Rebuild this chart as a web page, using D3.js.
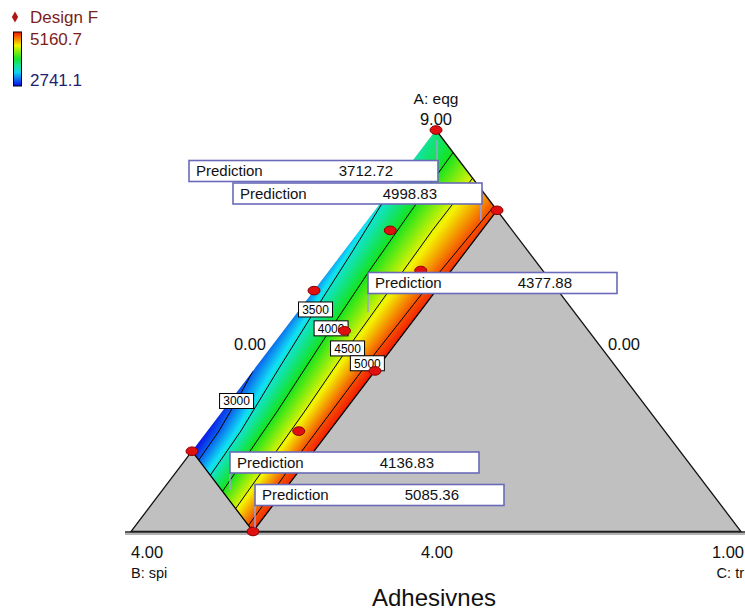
<!DOCTYPE html>
<html>
<head>
<meta charset="utf-8">
<script src="https://cdn.jsdelivr.net/npm/d3@7"></script>
<style>
  body { margin: 0; background: #fff; }
  svg text { font-family: Arial, "Liberation Sans", sans-serif; }
</style>
</head>
<body>
<svg id="chart" width="745" height="611"></svg>
<script>
// ---- mixture design: A = egg, B = spi, C = tr (fractions of the simplex) ----
// constrained region: B <= 0.8, C <= 0.2
const limitB = 0.8;
const limitC = 0.2;

const responseRange = [2741.1, 5160.7];
const colorStops = [2741.1, 3400, 3990, 4560, 5160.7];
const contourLevels = [3000, 3500, 4000, 4500, 5000];

// contour lines as [A, C] pairs (B = 1 - A - C)
const contour3000 = [[0.40, 0.0], [0.33, 0.010], [0.25, 0.019], [0.178, 0.022]];
const contour3500 = [[0.85, 0.0], [0.70, 0.014], [0.553, 0.026], [0.40, 0.040], [0.25, 0.055], [0.14, 0.060]];
const contour4000 = [[0.944, 0.056], [0.80, 0.060], [0.65, 0.066], [0.506, 0.075], [0.30, 0.090], [0.10, 0.100]];
const contour4500 = [[0.88, 0.12], [0.75, 0.119], [0.456, 0.127], [0.30, 0.135], [0.057, 0.143]];
const contour5000 = [[0.81, 0.19], [0.60, 0.181], [0.419, 0.178], [0.20, 0.180], [0.015, 0.185]];
const contourLines = [contour3000, contour3500, contour4000, contour4500, contour5000];
// where each contour carries its value label (A fraction)
const contourLabelA = [0.325, 0.553, 0.506, 0.456, 0.419];

// response along the edges of the constrained region, as [A, value]
const edgeC0 = [[0.2, 2741.1], [0.40, 3000], [0.55, 3110], [0.70, 3270], [0.85, 3500], [1.0, 3712.72]];
const edgeCmax = [[0.0, 5085.36], [0.4, 5160.7], [0.8, 5030]];
const edgeB0 = [[0.8, 5030], [0.81, 5000], [0.88, 4500], [0.944, 4000], [1.0, 3712.72]];
const edgeBmax = [[0.0, 5085.36], [0.015, 5000], [0.057, 4500], [0.10, 4000], [0.14, 3500], [0.178, 3000], [0.2, 2741.1]];

// design runs as [A, C]
const designRuns = [[1, 0], [0.8, 0.2], [0.75, 0.05], [0.65, 0.15], [0.6, 0], [0.5, 0.1],
                    [0.4, 0.2], [0.25, 0.15], [0.2, 0], [0, 0.2]];

// prediction flags: point [A, C] and predicted value
const flagPoints = [[1.0, 0.0], [0.775, 0.186], [0.546, 0.1156], [0.103, 0.111], [0.01, 0.197]];
const flagValues = [3712.72, 4998.83, 4377.88, 4136.83, 5085.36];

// ---------------------------------------------------------------------------
const svg = d3.select("#chart");

// ternary -> screen
const yOfA = d3.scaleLinear().domain([0, 1]).range([531.5, 130]);
const shiftOfA = d3.scaleLinear().domain([0, 1]).range([0, 305]);
const xOfC = d3.scaleLinear().domain([0, 1]).range([131, 741]);
const pt = (a, c) => [xOfC(c) + shiftOfA(a), yOfA(a)];

const color = d3.scaleLinear()
  .domain(colorStops)
  .range(["#0808e8", "#10e2f4", "#14e41e", "#f4f400", "#f41400"])
  .interpolate(d3.interpolateRgb)
  .clamp(true);

const P = {
  A: pt(1, 0), B: pt(0, 0), C: pt(0, 1),
  left: pt(1 - limitB, 0),          // B = 0.8, C = 0
  bottom: pt(0, limitC),            // B = 0.8, C = 0.2
  right: pt(1 - limitC, limitC)     // B = 0, C = 0.2
};
const regionPoly = [P.A, P.right, P.bottom, P.left];

// piecewise-linear lookup along an [A, value] table
const tableScale = t => d3.scaleLinear().domain(t.map(d => d[0])).range(t.map(d => d[1])).clamp(true);
const sC0 = tableScale(edgeC0), sCmax = tableScale(edgeCmax), sB0 = tableScale(edgeB0), sBmax = tableScale(edgeBmax);

function contourCAt(line, a) {
  for (let i = 0; i < line.length - 1; i++) {
    const [a0, c0] = line[i], [a1, c1] = line[i + 1];
    if ((a <= a0 && a >= a1) || (a >= a0 && a <= a1)) {
      const t = a1 === a0 ? 0 : (a - a0) / (a1 - a0);
      return c0 + t * (c1 - c0);
    }
  }
  return null;
}

function rowScale(a) {
  const cMin = Math.max(0, 1 - limitB - a);
  const cMax = Math.min(limitC, 1 - a);
  const knots = [[cMin, a >= 1 - limitB ? sC0(a) : sBmax(a)]];
  contourLines.forEach((line, i) => {
    const c = contourCAt(line, a);
    if (c !== null && c > cMin && c < cMax) knots.push([c, contourLevels[i]]);
  });
  knots.push([cMax, a <= 1 - limitC ? sCmax(a) : sB0(a)]);
  knots.sort((p, q) => p[0] - q[0]);
  return d3.scaleLinear().domain(knots.map(k => k[0])).range(knots.map(k => k[1])).clamp(true);
}

// ---- shaded response surface, rasterised then clipped to the region ----
const x0 = Math.floor(P.left[0]) - 2, x1 = Math.ceil(P.right[0]) + 2;
const y0 = Math.floor(P.A[1]) - 2, y1 = Math.ceil(P.bottom[1]) + 2;
const cw = x1 - x0, ch = y1 - y0;
const canvas = document.createElement("canvas");
canvas.width = cw; canvas.height = ch;
const ctx = canvas.getContext("2d");
const img = ctx.createImageData(cw, ch);
for (let j = 0; j < ch; j++) {
  const a = Math.max(0, Math.min(1, yOfA.invert(y0 + j + 0.5)));
  const rs = rowScale(a);
  for (let i = 0; i < cw; i++) {
    const c = xOfC.invert(x0 + i + 0.5 - shiftOfA(a));
    const col = d3.rgb(color(rs(c)));
    const k = (j * cw + i) * 4;
    img.data[k] = col.r; img.data[k + 1] = col.g; img.data[k + 2] = col.b; img.data[k + 3] = 255;
  }
}
ctx.putImageData(img, 0, 0);

const defs = svg.append("defs");
defs.append("clipPath").attr("id", "regionClip")
  .append("polygon").attr("points", regionPoly.map(p => p.join(",")).join(" "));

// legend gradient
const grad = defs.append("linearGradient").attr("id", "legendGrad")
  .attr("x1", 0).attr("y1", 1).attr("x2", 0).attr("y2", 0);
d3.range(0, 1.0001, 0.125).forEach(t => {
  grad.append("stop").attr("offset", t)
    .attr("stop-color", color(responseRange[0] + t * (responseRange[1] - responseRange[0])));
});

// ---- gray simplex ----
svg.append("polygon")
  .attr("points", [P.A, P.B, P.C].map(p => p.join(",")).join(" "))
  .attr("fill", "#c0c0c0");

svg.append("image")
  .attr("x", x0).attr("y", y0).attr("width", cw).attr("height", ch)
  .attr("href", canvas.toDataURL())
  .attr("clip-path", "url(#regionClip)");

// contour lines
const line = d3.line();
const cg = svg.append("g").attr("clip-path", "url(#regionClip)");
contourLines.forEach(l => {
  cg.append("path").attr("d", line(l.map(d => pt(d[0], d[1]))))
    .attr("fill", "none").attr("stroke", "#000").attr("stroke-width", 1);
});

// region borders against the gray area
svg.append("path").attr("d", line([P.left, P.bottom, P.right]))
  .attr("fill", "none").attr("stroke", "#000").attr("stroke-width", 1.3);

// simplex outline
svg.append("path").attr("d", line([P.left, P.B, P.C, P.A]))
  .attr("fill", "none").attr("stroke", "#111").attr("stroke-width", 1.3);
svg.append("line").attr("x1", P.B[0] - 6).attr("x2", P.C[0] + 4)
  .attr("y1", P.B[1] + 0.5).attr("y2", P.B[1] + 0.5)
  .attr("stroke", "#222").attr("stroke-width", 1.5);
svg.append("line").attr("x1", P.B[0] - 6).attr("x2", P.C[0] + 4)
  .attr("y1", P.B[1] + 2.5).attr("y2", P.B[1] + 2.5)
  .attr("stroke", "#999").attr("stroke-width", 1.5);

// contour value labels
contourLevels.forEach((lev, i) => {
  const a = contourLabelA[i];
  const c = contourCAt(contourLines[i], a);
  const [x, y] = pt(a, c);
  const g = svg.append("g").attr("transform", `translate(${x},${y})`);
  g.append("rect").attr("x", -17).attr("y", -7.5).attr("width", 34).attr("height", 15)
    .attr("fill", "#fff").attr("stroke", "#000").attr("stroke-width", 1);
  g.append("text").attr("text-anchor", "middle").attr("dy", "0.36em")
    .attr("font-size", 12).attr("fill", "#000").text(lev);
});

// design runs
designRuns.forEach(([a, c]) => {
  const [x, y] = pt(a, c);
  svg.append("ellipse").attr("cx", x).attr("cy", y).attr("rx", 6).attr("ry", 4.3)
    .attr("fill", "#e01010").attr("stroke", "#8a0000").attr("stroke-width", 1);
});

// prediction flags
const flagBoxes = [[189, 160.5], [233, 183], [368, 272.5], [230, 452], [255, 484.5]];
flagValues.forEach((v, i) => {
  const [a, c] = flagPoints[i];
  const [px, py] = pt(a, c);
  const [bx, by] = flagBoxes[i];
  const lx = i === 0 ? px + 1 : (i === 1 ? px : bx);
  const boxBottom = by + 21;
  const ly0 = py < by ? by : boxBottom;
  const ly1 = py < by ? py + 10 : py;
  svg.append("line").attr("x1", lx).attr("x2", lx).attr("y1", ly0).attr("y2", ly1)
    .attr("stroke", "#9fa0dc").attr("stroke-width", 1.5);
  svg.append("rect").attr("x", bx).attr("y", by).attr("width", 249).attr("height", 21)
    .attr("fill", "#fff").attr("stroke", "#6a6ab8").attr("stroke-width", 1.6);
  svg.append("text").attr("x", bx + 7).attr("y", by + 15.5)
    .attr("font-size", 15).attr("fill", "#111").text("Prediction");
  svg.append("text").attr("x", bx + 204).attr("y", by + 15.5).attr("text-anchor", "end")
    .attr("font-size", 15).attr("fill", "#111").text(v.toFixed(2));
});

// vertex and edge labels
const label = (x, y, t, size, anchor = "middle") =>
  svg.append("text").attr("x", x).attr("y", y).attr("text-anchor", anchor)
    .attr("font-size", size).attr("fill", "#111").text(t);
label(P.A[0], 104, "A: eqg", 15.5);
label(P.A[0], 124.5, "9.00", 16.5);
label(250, 350, "0.00", 16.5);
label(624, 350, "0.00", 16.5);
label(131, 558, "4.00", 16.5, "start");
label(131, 578, "B: spi", 14.5, "start");
label(437, 558, "4.00", 16.5);
label(744, 558, "1.00", 16.5, "end");
label(744, 578, "C: tr", 14.5, "end");
label(434, 606, "Adhesivnes", 24);

// legend
svg.append("path")
  .attr("d", d3.symbol(d3.symbolDiamond, 34)())
  .attr("transform", "translate(15,17)")
  .attr("fill", "#b01818");
svg.append("text").attr("x", 30).attr("y", 23).attr("font-size", 17)
  .attr("fill", "#7a1e1e").text("Design F");
svg.append("rect").attr("x", 13.5).attr("y", 32).attr("width", 8).attr("height", 54)
  .attr("fill", "url(#legendGrad)").attr("stroke", "#000").attr("stroke-width", 1);
svg.append("text").attr("x", 30).attr("y", 45).attr("font-size", 17)
  .attr("fill", "#7a1e1e").text(responseRange[1].toFixed(1));
svg.append("text").attr("x", 30).attr("y", 86).attr("font-size", 17)
  .attr("fill", "#1e1e6e").text(responseRange[0].toFixed(1));
</script>
</body>
</html>
